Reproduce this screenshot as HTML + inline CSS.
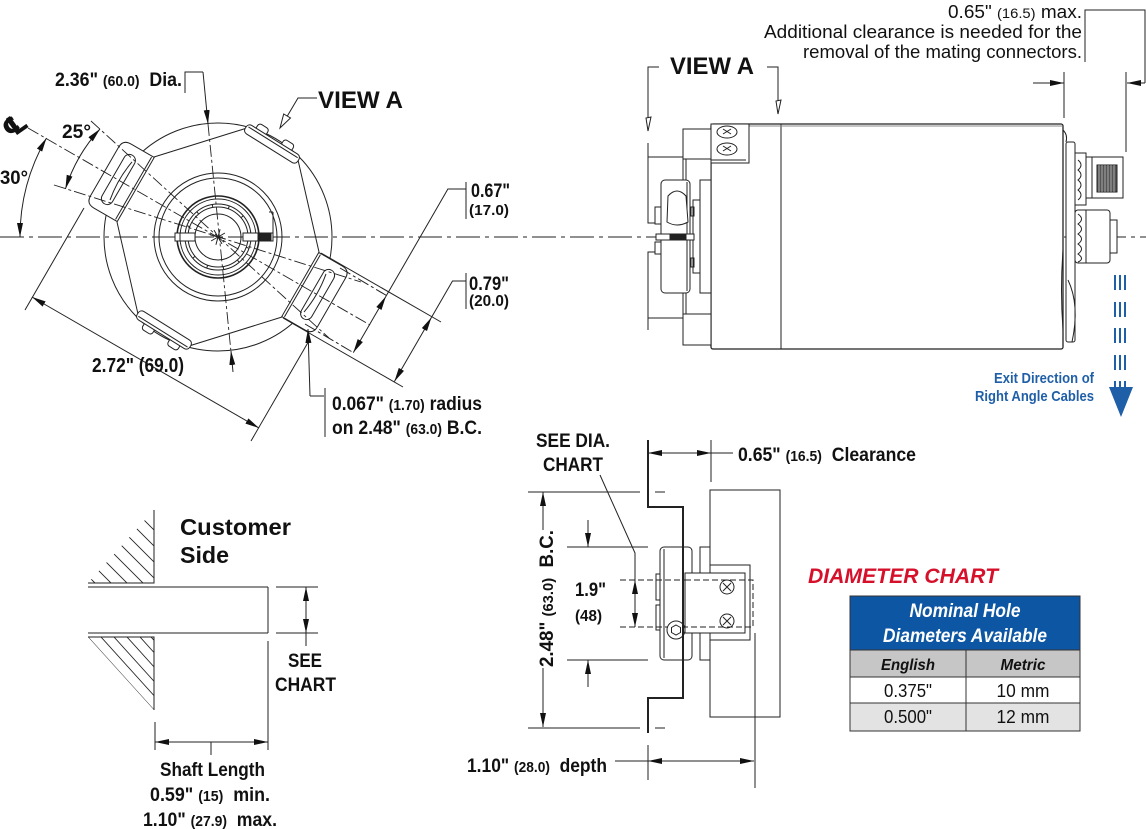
<!DOCTYPE html>
<html><head><meta charset="utf-8">
<style>
html,body{margin:0;padding:0;background:#fff;}
svg{display:block;}
.b{font-family:"Liberation Sans Narrow","Liberation Sans",sans-serif;font-weight:bold;fill:#111;}
.r{font-family:"Liberation Sans",sans-serif;fill:#111;}
.ln{stroke:#222;stroke-width:1;fill:none;}
</style></head><body>
<svg width="1146" height="829" viewBox="0 0 1146 829" xmlns="http://www.w3.org/2000/svg">
<defs>
<marker id="ar" viewBox="0 0 14 6" refX="14" refY="3" markerWidth="14" markerHeight="6" markerUnits="userSpaceOnUse" orient="auto-start-reverse"><path d="M0,0 L14,3 L0,6 Z" fill="#111"/></marker>
<clipPath id="hu"><polygon points="154,510 154,583 88,583"/></clipPath>
<clipPath id="hl"><polygon points="88,637 154,637 154,710"/></clipPath>
</defs>

<line x1="0" y1="237" x2="1146" y2="237" stroke="#222" stroke-width="1" stroke-dasharray="24 5 4 5"/>

<!-- ================= LEFT FRONT VIEW ================= -->
<g class="ln">
  <circle cx="218" cy="237" r="114"/>
  <circle cx="218" cy="237" r="64"/>
  <circle cx="218" cy="237" r="59"/>
  <circle cx="218" cy="237" r="41" stroke-width="1.6"/>
  <circle cx="218" cy="237" r="38"/>
  <circle cx="218" cy="237" r="33"/>
  <circle cx="218" cy="237" r="30"/>
  <circle cx="218" cy="237" r="23"/>
  <g transform="translate(218,237)">
    <line x1="30" y1="0" x2="33" y2="0" transform="rotate(20)"/>
    <line x1="30" y1="0" x2="33" y2="0" transform="rotate(50)"/>
    <line x1="30" y1="0" x2="33" y2="0" transform="rotate(80)"/>
    <line x1="30" y1="0" x2="33" y2="0" transform="rotate(110)"/>
    <line x1="30" y1="0" x2="33" y2="0" transform="rotate(140)"/>
    <line x1="30" y1="0" x2="33" y2="0" transform="rotate(200)"/>
    <line x1="30" y1="0" x2="33" y2="0" transform="rotate(230)"/>
    <line x1="30" y1="0" x2="33" y2="0" transform="rotate(260)"/>
    <line x1="30" y1="0" x2="33" y2="0" transform="rotate(290)"/>
    <line x1="30" y1="0" x2="33" y2="0" transform="rotate(320)"/>
    <line x1="-8" y1="0" x2="8" y2="0" transform="rotate(15)"/>
    <line x1="-8" y1="0" x2="8" y2="0" transform="rotate(60)"/>
    <line x1="-8" y1="0" x2="8" y2="0" transform="rotate(105)"/>
    <line x1="-8" y1="0" x2="8" y2="0" transform="rotate(150)"/>
  </g>
  <rect x="175" y="233" width="20" height="8" fill="#fff"/>
  <line x1="180" y1="233" x2="180" y2="241"/>
  <rect x="243" y="233" width="30" height="8" fill="#fff"/>
  <rect x="258" y="234" width="13" height="6" fill="#222"/>
  <line x1="273" y1="212" x2="273" y2="237"/>
  <line x1="269" y1="212" x2="273" y2="212"/>
  <line x1="154" y1="157" x2="247" y2="128"/>
  <line x1="298" y1="160" x2="319" y2="252"/>
  <line x1="282" y1="317" x2="189" y2="346"/>
  <line x1="138" y1="314" x2="117" y2="222"/>
</g>
<g transform="translate(272,144) rotate(32)" fill="#fff" stroke="#222" stroke-width="1">
  <rect x="-22" y="-11" width="12" height="8" rx="3"/>
  <rect x="8" y="-11" width="12" height="8" rx="3"/>
  <rect x="-31" y="-5" width="62" height="10" rx="4"/>
  <line x1="-29" y1="-2" x2="29" y2="-2"/>
</g>
<g transform="translate(164,330) rotate(32)" fill="#fff" stroke="#222" stroke-width="1">
  <rect x="-20" y="3" width="12" height="8" rx="3"/>
  <rect x="10" y="3" width="12" height="8" rx="3"/>
  <rect x="-31" y="-5" width="62" height="10" rx="4"/>
  <line x1="-29" y1="2" x2="29" y2="2"/>
</g>
<g transform="translate(218,237) rotate(-150)" fill="#fff" stroke="#222" stroke-width="1">
  <path d="M95,-37 L122,-37 Q131,-37 131,-28 L131,28 Q131,37 122,37 L95,37 Z"/>
  <line x1="97.5" y1="-36" x2="97.5" y2="36"/>
  <rect x="109" y="-28" width="12" height="56" rx="6"/>
  <path d="M112,-22 Q116,0 112,22" fill="none"/>
</g>
<g transform="translate(218,237) rotate(30)" fill="#fff" stroke="#222" stroke-width="1">
  <path d="M95,-37 L122,-37 Q131,-37 131,-28 L131,28 Q131,37 122,37 L95,37 Z"/>
  <line x1="97.5" y1="-36" x2="97.5" y2="36"/>
  <rect x="109" y="-28" width="12" height="56" rx="6"/>
  <path d="M112,-22 Q116,0 112,22" fill="none"/>
</g>

<g stroke="#222" stroke-width="0.9" fill="none" stroke-dasharray="12 3 3 3">
  <line x1="28" y1="128" x2="370" y2="325"/>
  <line x1="91" y1="121" x2="329" y2="338"/>
  <line x1="54" y1="185" x2="361" y2="282"/>
  <line x1="208" y1="124" x2="230.8" y2="350"/>
</g>
<g class="ln">
  <polyline points="185,93 185,72 203,72"/>
  <line x1="203" y1="72" x2="208" y2="124" marker-end="url(#ar)"/>
  <line x1="233" y1="372" x2="231" y2="351" marker-end="url(#ar)"/>
  <path d="M46.5,138 A198,198 0 0 0 20,237" marker-start="url(#ar)" marker-end="url(#ar)"/>
  <path d="M100,129 A160,160 0 0 0 65.4,189" marker-start="url(#ar)" marker-end="url(#ar)"/>
  <line x1="84" y1="208" x2="25" y2="310"/>
  <line x1="310" y1="339" x2="251" y2="441"/>
  <line x1="32" y1="297" x2="259" y2="428" marker-start="url(#ar)" marker-end="url(#ar)"/>
  <line x1="321" y1="253" x2="441" y2="322"/>
  <line x1="283" y1="318" x2="403" y2="387"/>
  <line x1="340" y1="268" x2="389" y2="297" stroke-dasharray="12 3 3 3"/>
  <line x1="305" y1="324" x2="354" y2="353" stroke-dasharray="12 3 3 3"/>
  <line x1="431.4" y1="317.5" x2="394.4" y2="381.5" marker-start="url(#ar)" marker-end="url(#ar)"/>
  <polyline points="431.4,317.5 452.5,281 466,281"/>
  <line x1="466" y1="273" x2="466" y2="309"/>
  <line x1="385.9" y1="296.4" x2="353.3" y2="352.6" marker-start="url(#ar)" marker-end="url(#ar)"/>
  <polyline points="385.9,296.4 447.9,189 466,189"/>
  <line x1="466" y1="182" x2="466" y2="219"/>
  <line x1="310" y1="396" x2="308" y2="329" marker-end="url(#ar)"/>
  <line x1="310" y1="396" x2="324" y2="396"/>
  <line x1="325" y1="388" x2="325" y2="437"/>
  <polyline points="317,98 298,98 282,125"/>
</g>
<polygon points="280,128 290.5,118 283.7,114" fill="#fff" stroke="#222" stroke-width="1"/>

<text class="b" x="55" y="86" font-size="19" textLength="127" lengthAdjust="spacingAndGlyphs">2.36"&#160;<tspan font-size="15">(60.0)</tspan>&#160;&#160;Dia.</text>
<text class="b" x="318" y="108" font-size="24" textLength="85" lengthAdjust="spacingAndGlyphs" style="font-family:'Liberation Sans',sans-serif">VIEW A</text>
<text class="b" x="62" y="138" font-size="19" textLength="29" lengthAdjust="spacingAndGlyphs">25°</text>
<text class="b" x="0" y="184" font-size="19" textLength="28" lengthAdjust="spacingAndGlyphs">30°</text>
<text x="0" y="0" font-size="27" font-weight="bold" transform="translate(20,133) rotate(-35)" style="font-family:'DejaVu Sans',sans-serif;fill:#111" text-anchor="middle">℄</text>
<text class="b" x="92" y="372" font-size="20" textLength="92" lengthAdjust="spacingAndGlyphs">2.72" (69.0)</text>
<text class="b" x="471" y="197" font-size="19" textLength="39" lengthAdjust="spacingAndGlyphs">0.67"</text>
<text class="b" x="469" y="215" font-size="15" textLength="40" lengthAdjust="spacingAndGlyphs">(17.0)</text>
<text class="b" x="469" y="290" font-size="19" textLength="40" lengthAdjust="spacingAndGlyphs">0.79"</text>
<text class="b" x="469" y="306" font-size="16" textLength="40" lengthAdjust="spacingAndGlyphs">(20.0)</text>
<text class="b" x="332" y="410" font-size="19" textLength="150" lengthAdjust="spacingAndGlyphs">0.067"&#160;<tspan font-size="15">(1.70)</tspan>&#160;radius</text>
<text class="b" x="332" y="434" font-size="19" textLength="150" lengthAdjust="spacingAndGlyphs">on 2.48"&#160;<tspan font-size="15">(63.0)</tspan>&#160;B.C.</text>

<!-- ================= RIGHT SIDE VIEW (VIEW A) ================= -->
<g class="ln" fill="#fff">
  <rect x="711" y="124" width="352" height="225" rx="2" fill="#fff" stroke-width="1.3"/>
  <line x1="781" y1="124" x2="781" y2="349"/>
  <line x1="711" y1="126" x2="1062" y2="126" stroke="#888"/>
  <rect x="683" y="129" width="28" height="216" fill="#fff"/>
  <line x1="683" y1="159" x2="711" y2="159"/>
  <line x1="683" y1="314" x2="711" y2="314"/>
  <line x1="686" y1="159" x2="686" y2="314"/>
  <rect x="711" y="124" width="38" height="39" fill="#fff"/>
  <line x1="711" y1="160" x2="746" y2="160"/>
  <ellipse cx="727" cy="132" rx="10" ry="6" fill="#fff"/>
  <ellipse cx="727" cy="149" rx="10" ry="6" fill="#fff"/>
  <path d="M723,129 L731,134 M731,129 L723,134 M723,146 L731,151 M731,146 L723,151"/>
  <path d="M648,143 V223 H660 M648,157 H683"/>
  <path d="M648,330 V252 H683 M648,318 H683"/>
  <rect x="661" y="180" width="29" height="113" rx="4" fill="#fff"/>
  <line x1="687" y1="182" x2="687" y2="291"/>
  <rect x="700" y="180" width="11" height="113" fill="#fff"/>
  <rect x="693" y="200" width="7" height="73" fill="#fff"/>
  <rect x="691" y="207" width="3" height="9"/>
  <rect x="691" y="258" width="3" height="9"/>
  <path d="M668,196 Q677,186 686,196 L688,222 Q677,228 667,222 Z" fill="#fff"/>
  <rect x="655" y="207" width="6" height="17" fill="#fff"/>
  <rect x="655" y="242" width="6" height="12" fill="#fff"/>
  <rect x="656" y="234" width="38" height="6" fill="#fff"/>
  <rect x="670" y="234" width="16" height="6" fill="#222"/>
  <path d="M1063,130 Q1068,135 1066,142"/>
  <rect x="1066" y="142" width="9" height="200" rx="2" fill="#fff"/>
  <rect x="1075" y="153" width="11" height="52" fill="#fff"/>
  <path d="M1078,160 Q1084,165 1078,170 Q1084,175 1078,180 Q1084,185 1078,190 Q1084,195 1078,200"/>
  <rect x="1086" y="157" width="37" height="41" fill="#fff"/>
  <line x1="1092" y1="157" x2="1092" y2="198"/>
  <rect x="1097" y="165" width="20" height="27" fill="#555"/>
  <path d="M1099,165V192M1102,165V192M1105,165V192M1108,165V192M1111,165V192M1114,165V192" stroke="#ccc" stroke-width="0.7"/>
  <rect x="1075" y="210" width="35" height="53" rx="3" fill="#fff"/>
  <path d="M1078,214 Q1085,219 1078,224 Q1085,229 1078,234 Q1085,239 1078,244 Q1085,249 1078,254 Q1085,259 1078,262"/>
  <line x1="1086" y1="210" x2="1086" y2="263"/>
  <rect x="1110" y="220" width="7" height="33" fill="#fff"/>
  <path d="M1068,280 Q1080,305 1072,342"/>
  <path d="M1063,250 Q1060,290 1063,330"/>
</g>
<g class="ln">
  <polyline points="659,67 648,67 648,120"/>
  <polyline points="767,67 778,67 778,103"/>
</g>
<polygon points="648,131 651,117 646,118" fill="#fff" stroke="#222" stroke-width="1"/>
<polygon points="778,114 781,100 776,101" fill="#fff" stroke="#222" stroke-width="1"/>
<text class="b" x="670" y="74" font-size="24" textLength="84" lengthAdjust="spacingAndGlyphs" style="font-family:'Liberation Sans',sans-serif">VIEW A</text>
<g class="ln">
  <polyline points="1085,62 1085,10 1145,10 1145,83"/>
  <line x1="1145" y1="83" x2="1127" y2="83" marker-end="url(#ar)"/>
  <line x1="1033" y1="83" x2="1064" y2="83" marker-end="url(#ar)"/>
  <line x1="1064" y1="72" x2="1064" y2="118"/>
  <line x1="1126" y1="72" x2="1126" y2="152"/>
</g>
<text class="r" x="1082" y="18" font-size="18" text-anchor="end" textLength="134" lengthAdjust="spacingAndGlyphs">0.65"&#160;<tspan font-size="14">(16.5)</tspan>&#160;max.</text>
<text class="r" x="1082" y="38" font-size="18" text-anchor="end" textLength="318" lengthAdjust="spacingAndGlyphs">Additional clearance is needed for the</text>
<text class="r" x="1082" y="58" font-size="18" text-anchor="end" textLength="279" lengthAdjust="spacingAndGlyphs">removal of the mating connectors.</text>
<g stroke="#1f5fa8" stroke-width="2">
  <path d="M1115,275V290M1120,275V290M1125,275V290 M1115,302V317M1120,302V317M1125,302V317 M1115,328V343M1120,328V343M1125,328V343 M1115,355V370M1120,355V370M1125,355V370 M1115,381V388M1120,381V388M1125,381V388"/>
</g>
<polygon points="1109,387 1133,387 1121,417" fill="#1f5fa8"/>
<text class="b" x="1094" y="383" font-size="15" text-anchor="end" textLength="100" lengthAdjust="spacingAndGlyphs" style="fill:#1f5fa8">Exit Direction of</text>
<text class="b" x="1094" y="401" font-size="15" text-anchor="end" textLength="119" lengthAdjust="spacingAndGlyphs" style="fill:#1f5fa8">Right Angle Cables</text>

<!-- ================= BOTTOM MIDDLE SECTION ================= -->
<g class="ln">
  <path d="M648,440 V507 H683 V698 H648 V733" stroke-width="2"/>
  <line x1="648" y1="745" x2="648" y2="780"/>
  <rect x="710" y="490" width="70" height="227"/>
  <rect x="660" y="547" width="32" height="113" rx="4" fill="#fff"/>
  <line x1="664" y1="549" x2="664" y2="658"/>
  <rect x="656" y="574" width="4" height="26"/>
  <rect x="656" y="605" width="4" height="25"/>
  <rect x="700" y="547" width="10" height="113"/>
  <rect x="710" y="565" width="40" height="75"/>
  <rect x="685" y="573" width="60" height="60" fill="#fff"/>
  <path d="M685,580 H753 V627 H685" stroke-dasharray="6 3"/>
  <line x1="620" y1="580" x2="685" y2="580" stroke-dasharray="6 3"/>
  <line x1="620" y1="627" x2="685" y2="627" stroke-dasharray="6 3"/>
  <circle cx="727" cy="587" r="7"/>
  <circle cx="727" cy="621" r="7"/>
  <path d="M723,583 L731,591 M731,583 L723,591 M723,617 L731,625 M731,617 L723,625"/>
  <circle cx="676" cy="630" r="9" fill="#fff"/>
  <polygon points="676,625 680.5,627.5 680.5,632.5 676,635 671.5,632.5 671.5,627.5"/>
  <line x1="755" y1="633" x2="755" y2="788"/>
  <line x1="683" y1="507" x2="683" y2="698" stroke-width="2"/>
  <line x1="648" y1="453" x2="711" y2="453" marker-start="url(#ar)" marker-end="url(#ar)"/>
  <line x1="711" y1="453" x2="733" y2="453"/>
  <line x1="711" y1="440" x2="711" y2="482"/>
  <polyline points="600,475 635,553 635,580"/>
  <line x1="635" y1="580" x2="635" y2="627" marker-start="url(#ar)" marker-end="url(#ar)"/>
  <line x1="567" y1="547" x2="648" y2="547"/>
  <line x1="567" y1="660" x2="648" y2="660"/>
  <line x1="588" y1="520" x2="588" y2="547" marker-end="url(#ar)"/>
  <line x1="588" y1="687" x2="588" y2="660" marker-end="url(#ar)"/>
  <line x1="528" y1="492" x2="640" y2="492"/>
  <line x1="655" y1="492" x2="665" y2="492"/>
  <line x1="528" y1="728" x2="640" y2="728"/>
  <line x1="655" y1="728" x2="665" y2="728"/>
  <line x1="543" y1="530" x2="543" y2="492" marker-end="url(#ar)"/>
  <line x1="543" y1="668" x2="543" y2="727" marker-end="url(#ar)"/>
  <line x1="615" y1="761" x2="648" y2="761"/>
  <line x1="648" y1="761" x2="754" y2="761" marker-start="url(#ar)" marker-end="url(#ar)"/>
</g>
<text class="b" x="536" y="447" font-size="19" textLength="74" lengthAdjust="spacingAndGlyphs">SEE DIA.</text>
<text class="b" x="543" y="471" font-size="19" textLength="60" lengthAdjust="spacingAndGlyphs">CHART</text>
<text class="b" x="738" y="461" font-size="19" textLength="178" lengthAdjust="spacingAndGlyphs">0.65"&#160;<tspan font-size="15">(16.5)</tspan>&#160;&#160;Clearance</text>
<text class="b" x="575" y="596" font-size="19" textLength="31" lengthAdjust="spacingAndGlyphs">1.9"</text>
<text class="b" x="575" y="621" font-size="16" textLength="27" lengthAdjust="spacingAndGlyphs">(48)</text>
<text class="b" transform="translate(553,667) rotate(-90)" x="0" y="0" font-size="19" textLength="137" lengthAdjust="spacingAndGlyphs">2.48"&#160;<tspan font-size="15">(63.0)</tspan>&#160;&#160;B.C.</text>
<text class="b" x="467" y="772" font-size="19" textLength="140" lengthAdjust="spacingAndGlyphs">1.10"&#160;<tspan font-size="15">(28.0)</tspan>&#160;&#160;depth</text>

<!-- ================= SHAFT VIEW ================= -->
<g class="ln">
  <path d="M154,510 V583 H88"/>
  <path d="M88,637 H154 V710"/>
  <line x1="88" y1="587" x2="268" y2="587"/>
  <line x1="88" y1="633" x2="268" y2="633"/>
  <line x1="268" y1="587" x2="268" y2="633"/>
  <line x1="268" y1="641" x2="268" y2="750"/>
  <line x1="155" y1="722" x2="155" y2="750"/>
  <line x1="155" y1="742" x2="268" y2="742" marker-start="url(#ar)" marker-end="url(#ar)"/>
  <line x1="211" y1="742" x2="211" y2="755"/>
  <line x1="276" y1="587" x2="318" y2="587"/>
  <line x1="276" y1="633" x2="318" y2="633"/>
  <line x1="306" y1="587" x2="306" y2="633" marker-start="url(#ar)" marker-end="url(#ar)"/>
  <line x1="306" y1="633" x2="306" y2="646"/>
  <g clip-path="url(#hu)" stroke-width="0.9">
    <line x1="60" y1="548" x2="200" y2="688"/>
    <line x1="60" y1="532" x2="200" y2="672"/>
    <line x1="60" y1="516" x2="200" y2="656"/>
    <line x1="60" y1="500" x2="200" y2="640"/>
    <line x1="60" y1="484" x2="200" y2="624"/>
    <line x1="60" y1="468" x2="200" y2="608"/>
    <line x1="60" y1="452" x2="200" y2="592"/>
    <line x1="60" y1="436" x2="200" y2="576"/>
  </g>
  <g clip-path="url(#hl)" stroke-width="0.9">
    <line x1="88" y1="637" x2="154" y2="710"/>
    <line x1="101" y1="637" x2="167" y2="710"/>
    <line x1="114" y1="637" x2="180" y2="710"/>
    <line x1="127" y1="637" x2="193" y2="710"/>
    <line x1="140" y1="637" x2="206" y2="710"/>
    <line x1="151" y1="637" x2="217" y2="710"/>
  </g>
</g>
<text x="180" y="535" font-size="23" font-weight="bold" textLength="111" lengthAdjust="spacingAndGlyphs" style="font-family:'Liberation Sans',sans-serif;fill:#111">Customer</text>
<text x="180" y="563" font-size="23" font-weight="bold" textLength="49" lengthAdjust="spacingAndGlyphs" style="font-family:'Liberation Sans',sans-serif;fill:#111">Side</text>
<text class="b" x="288" y="667" font-size="19" textLength="34" lengthAdjust="spacingAndGlyphs">SEE</text>
<text class="b" x="275" y="691" font-size="19" textLength="61" lengthAdjust="spacingAndGlyphs">CHART</text>
<text class="b" x="160" y="776" font-size="19" textLength="105" lengthAdjust="spacingAndGlyphs">Shaft Length</text>
<text class="b" x="150" y="801" font-size="19" textLength="120" lengthAdjust="spacingAndGlyphs">0.59"&#160;<tspan font-size="15">(15)</tspan>&#160;&#160;min.</text>
<text class="b" x="143" y="826" font-size="19" textLength="134" lengthAdjust="spacingAndGlyphs">1.10"&#160;<tspan font-size="15">(27.9)</tspan>&#160;&#160;max.</text>

<!-- ================= DIAMETER CHART ================= -->
<text x="808" y="583" font-size="21" font-weight="bold" font-style="italic" textLength="190" lengthAdjust="spacingAndGlyphs" style="font-family:'Liberation Sans',sans-serif;fill:#d6102b">DIAMETER CHART</text>
<rect x="850" y="596" width="230" height="54" fill="#0d56a3"/>
<rect x="850" y="650" width="230" height="27" fill="#c6c6c6"/>
<rect x="850" y="677" width="230" height="26" fill="#fff"/>
<rect x="850" y="703" width="230" height="28" fill="#e3e3e3"/>
<g stroke="#333" stroke-width="1" fill="none">
  <rect x="850" y="596" width="230" height="135"/>
  <line x1="850" y1="650" x2="1080" y2="650"/>
  <line x1="850" y1="677" x2="1080" y2="677"/>
  <line x1="850" y1="703" x2="1080" y2="703"/>
  <line x1="966" y1="650" x2="966" y2="731"/>
</g>
<g style="font-family:'Liberation Sans',sans-serif" text-anchor="middle">
  <text x="965" y="617" font-size="19" font-weight="bold" font-style="italic" fill="#fff" textLength="111" lengthAdjust="spacingAndGlyphs">Nominal Hole</text>
  <text x="965" y="642" font-size="19" font-weight="bold" font-style="italic" fill="#fff" textLength="164" lengthAdjust="spacingAndGlyphs">Diameters Available</text>
  <text x="908" y="670" font-size="16" font-weight="bold" font-style="italic" fill="#111" textLength="54" lengthAdjust="spacingAndGlyphs">English</text>
  <text x="1023" y="670" font-size="16" font-weight="bold" font-style="italic" fill="#111" textLength="45" lengthAdjust="spacingAndGlyphs">Metric</text>
  <text x="908" y="697" font-size="18" fill="#111" textLength="48" lengthAdjust="spacingAndGlyphs">0.375"</text>
  <text x="1023" y="697" font-size="18" fill="#111" textLength="53" lengthAdjust="spacingAndGlyphs">10 mm</text>
  <text x="908" y="723" font-size="18" fill="#111" textLength="48" lengthAdjust="spacingAndGlyphs">0.500"</text>
  <text x="1023" y="723" font-size="18" fill="#111" textLength="53" lengthAdjust="spacingAndGlyphs">12 mm</text>
</g>
</svg>
</body></html>
